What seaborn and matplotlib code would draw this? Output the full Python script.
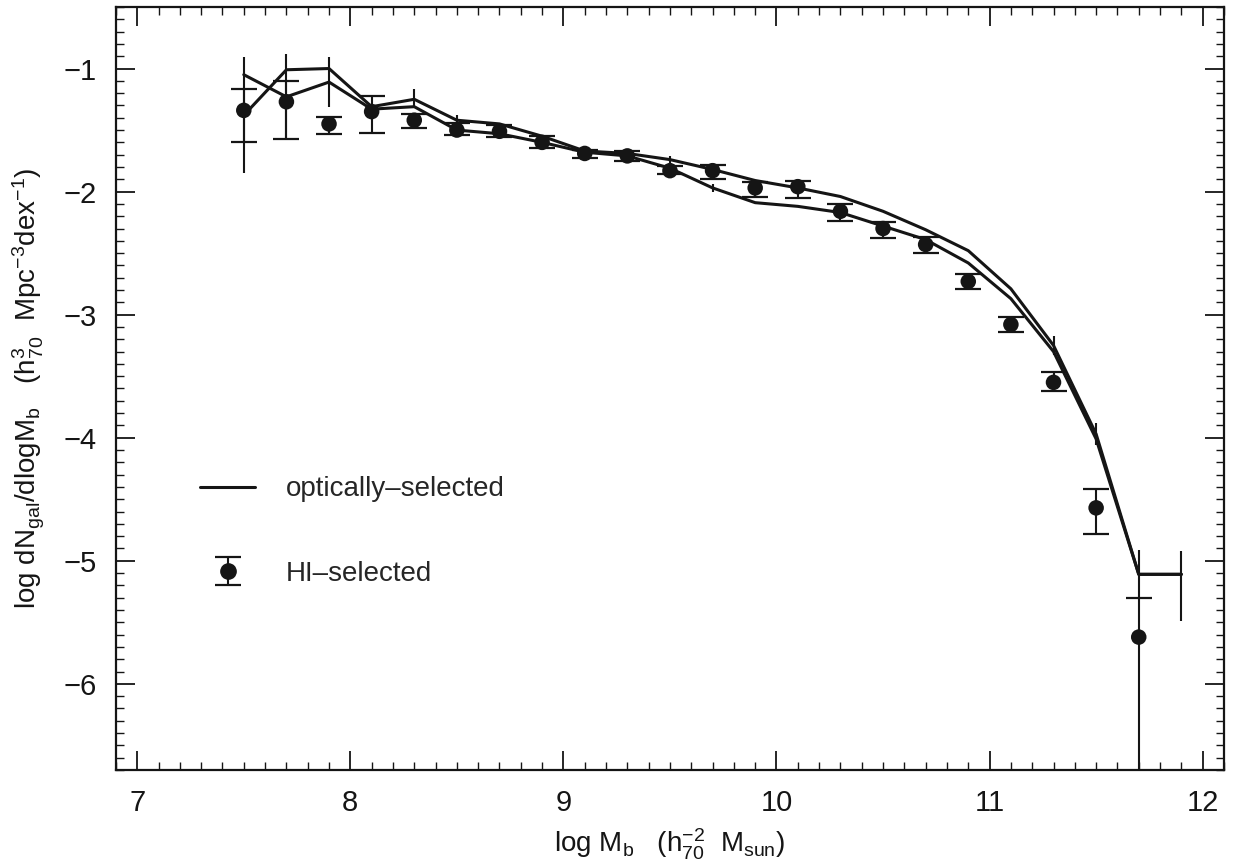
import numpy as np
import pandas as pd
import matplotlib
matplotlib.use("Agg")
import matplotlib.pyplot as plt
import seaborn as sns
from matplotlib.ticker import MultipleLocator
from matplotlib.lines import Line2D

# optically-selected mass function (two versions), bin centres in log Mb
opt_x = [7.5, 7.7, 7.9, 8.1, 8.3, 8.5, 8.7, 8.9, 9.1, 9.3, 9.5, 9.7,
         9.9, 10.1, 10.3, 10.5, 10.7, 10.9, 11.1, 11.3, 11.5, 11.7, 11.9]
opt_a = [-1.38, -1.01, -1.00, -1.31, -1.25, -1.42, -1.45, -1.55, -1.67, -1.69, -1.74, -1.82,
         -1.91, -1.97, -2.04, -2.16, -2.31, -2.48, -2.79, -3.25, -3.97, -5.11, -5.11]
opt_b = [-1.05, -1.23, -1.11, -1.33, -1.31, -1.50, -1.53, -1.60, -1.68, -1.71, -1.81, -1.97,
         -2.09, -2.12, -2.17, -2.28, -2.39, -2.58, -2.87, -3.30, -4.01, -5.11, -5.11]
# error bars on the optical curves (lower, upper)
opt_a_lo = [0.47, 0, 0, 0, 0.06, 0.04, 0, 0, 0, 0, 0.03, 0,
            0, 0, 0, 0, 0, 0, 0, 0.08, 0.09, 0.20, 0.38]
opt_a_hi = [0.47, 0, 0, 0, 0.08, 0.04, 0, 0, 0, 0, 0.03, 0,
            0, 0, 0, 0, 0, 0, 0, 0.08, 0.09, 0.20, 0.19]
opt_b_err = [0, 0.35, 0.20, 0, 0, 0, 0, 0, 0, 0, 0, 0.03,
             0, 0, 0, 0, 0, 0, 0, 0, 0, 0, 0]

# HI-selected points
hi_x = [7.5, 7.7, 7.9, 8.1, 8.3, 8.5, 8.7, 8.9, 9.1, 9.3, 9.5, 9.7,
        9.9, 10.1, 10.3, 10.5, 10.7, 10.9, 11.1, 11.3, 11.5, 11.7]
hi_y = [-1.34, -1.27, -1.45, -1.35, -1.42, -1.50, -1.51, -1.60, -1.69, -1.71, -1.83, -1.83,
        -1.97, -1.96, -2.16, -2.30, -2.43, -2.73, -3.08, -3.55, -4.57, -5.62]
hi_top = [-1.17, -1.10, -1.39, -1.22, -1.37, -1.44, -1.46, -1.55, -1.66, -1.67, -1.79, -1.78,
          -1.92, -1.91, -2.10, -2.25, -2.37, -2.67, -3.02, -3.47, -4.42, -5.30]
hi_bot = [-1.60, -1.57, -1.53, -1.52, -1.48, -1.54, -1.56, -1.645, -1.73, -1.75, -1.86, -1.90,
          -2.04, -2.05, -2.24, -2.38, -2.50, -2.79, -3.14, -3.62, -4.78, -9.0]

sns.set_style("ticks")
plt.rcParams['font.family'] = ['Liberation Sans', 'DejaVu Sans']
plt.rcParams['mathtext.fontset'] = 'custom'
plt.rcParams['mathtext.rm'] = 'Liberation Sans'
plt.rcParams['mathtext.it'] = 'Liberation Sans:italic'

ink = '#151515'
fig = plt.figure(figsize=(12.44, 8.64), dpi=100)
ax = fig.add_axes([0.0932, 0.1088, 0.8907, 0.8831])

opt = pd.DataFrame({"x": opt_x, "a": opt_a, "b": opt_b})
sns.lineplot(data=opt, x="x", y="a", ax=ax, color=ink, lw=2.2, estimator=None, sort=False)
sns.lineplot(data=opt, x="x", y="b", ax=ax, color=ink, lw=2.2, estimator=None, sort=False)
ax.errorbar(opt_x, opt_a, yerr=[opt_a_lo, opt_a_hi], fmt='none', ecolor=ink, elinewidth=1.5, capsize=0)
ax.errorbar(opt_x, opt_b, yerr=opt_b_err, fmt='none', ecolor=ink, elinewidth=1.5, capsize=0)

hi = pd.DataFrame({"x": hi_x, "y": hi_y})
lo_err = np.array(hi_y) - np.array(hi_bot)
up_err = np.array(hi_top) - np.array(hi_y)
ax.errorbar(hi_x, hi_y, yerr=[lo_err, up_err], fmt='none', ecolor=ink, elinewidth=1.5,
            capsize=9.5, capthick=1.6, zorder=3)
sns.scatterplot(data=hi, x="x", y="y", ax=ax, color=ink, s=125, edgecolor='none', zorder=4)

ax.set_xlim(6.9, 12.1)
ax.set_ylim(-6.7, -0.5)
ax.xaxis.set_major_locator(MultipleLocator(1))
ax.xaxis.set_minor_locator(MultipleLocator(0.1))
ax.yaxis.set_major_locator(MultipleLocator(1))
ax.yaxis.set_minor_locator(MultipleLocator(0.1))
ax.tick_params(which='both', direction='in', top=True, right=True, colors=ink)
ax.tick_params(which='major', length=14, width=1.3, labelsize=21, pad=14)
ax.tick_params(which='minor', length=6, width=1.0)
for s in ax.spines.values():
    s.set_linewidth(1.6)
    s.set_color(ink)

ax.set_xlabel(r'log M$_{\mathrm{b}}$   (h$_{\mathrm{70}}^{\mathrm{-2}}$  M$_{\mathrm{sun}}$)',
              fontsize=20, color=ink, labelpad=7)
ax.set_ylabel(r'log dN$_{\mathrm{gal}}$/dlogM$_{\mathrm{b}}$   (h$_{\mathrm{70}}^{\mathrm{3}}$  Mpc$^{\mathrm{-3}}$dex$^{\mathrm{-1}}$)',
              fontsize=20, color=ink, labelpad=12)

h_line = Line2D([], [], color=ink, lw=2.2)
h_hi = ax.errorbar([np.nan], [np.nan], yerr=[[0.1], [0.1]], fmt='o', color=ink, ms=11,
                   elinewidth=1.5, capsize=9.5, capthick=1.6)
ax.legend([h_line, h_hi], ['optically\u2013selected', 'HI\u2013selected'], loc='upper left',
          bbox_to_anchor=(0.0758, 0.385), frameon=False, fontsize=20, handlelength=2.0,
          labelspacing=2.1, handletextpad=1.1, borderaxespad=0, borderpad=0)

fig.savefig('out.png', dpi=100)
